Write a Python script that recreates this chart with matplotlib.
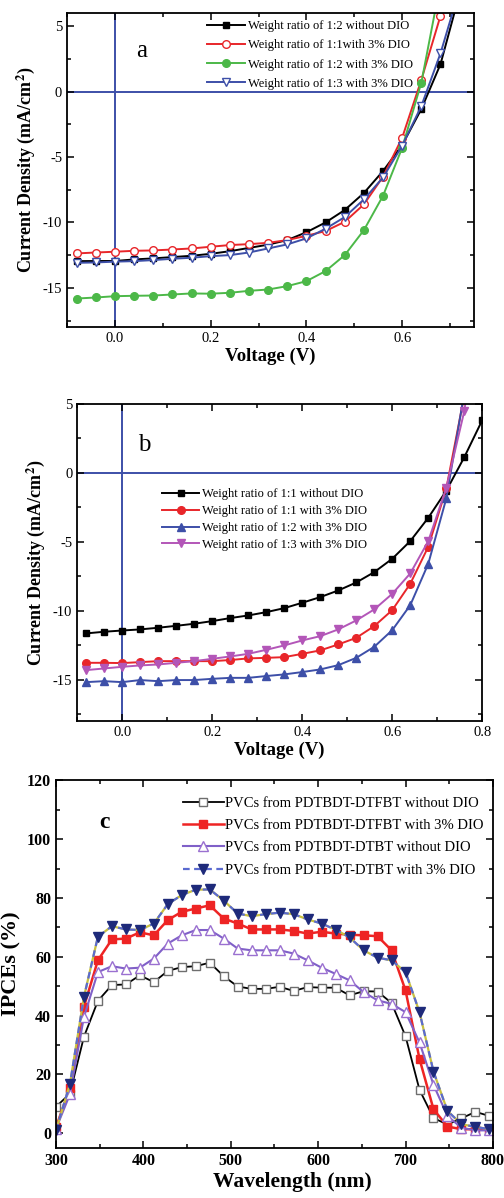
import numpy as np
import matplotlib
matplotlib.use('Agg')
import matplotlib.pyplot as plt
from matplotlib.ticker import MultipleLocator

plt.rcParams['font.family'] = ['Liberation Serif', 'DejaVu Serif']
plt.rcParams['mathtext.fontset'] = 'stix'
plt.rcParams['axes.unicode_minus'] = False

# ---- panel a : J-V curves ----
va = [-0.08, -0.04, 0.0, 0.04, 0.08, 0.12, 0.16, 0.20, 0.24, 0.28, 0.32, 0.36,
      0.40, 0.44, 0.48, 0.52, 0.56, 0.60, 0.64, 0.68, 0.72]
a_12_noDIO = [-12.96, -12.95, -12.95, -12.83, -12.75, -12.65, -12.55, -12.4, -12.2, -11.95,
              -11.7, -11.35, -10.75, -10.0, -9.05, -7.75, -6.07, -4.08, -1.33, 2.1, 7.5]
a_11_DIO = [-12.37, -12.3, -12.24, -12.17, -12.14, -12.07, -11.99, -11.86, -11.73, -11.66,
            -11.56, -11.35, -11.02, -10.66, -9.95, -8.62, -6.5, -3.52, 0.9, 5.8, 12.0]
a_12_DIO = [-15.82, -15.74, -15.64, -15.61, -15.59, -15.51, -15.43, -15.45, -15.38, -15.23,
            -15.13, -14.87, -14.49, -13.72, -12.5, -10.59, -7.96, -4.29, 0.69, 8.3, 16.0]
a_13_DIO = [-13.09, -13.06, -13.0, -12.96, -12.88, -12.78, -12.7, -12.58, -12.5, -12.3,
            -11.99, -11.68, -11.22, -10.48, -9.59, -8.24, -6.56, -4.13, -1.1, 2.93, 7.85]
labels_a = ['Weight ratio of 1:2 without DIO', 'Weight ratio of 1:1with 3% DIO',
            'Weight ratio of 1:2 with 3% DIO', 'Weight ratio of 1:3 with 3% DIO']

# ---- panel b : J-V curves ----
vb = [-0.08, -0.04, 0.0, 0.04, 0.08, 0.12, 0.16, 0.20, 0.24, 0.28, 0.32, 0.36,
      0.40, 0.44, 0.48, 0.52, 0.56, 0.60, 0.64, 0.68, 0.72, 0.76, 0.80]
b_11_noDIO = [-11.64, -11.52, -11.43, -11.35, -11.23, -11.09, -10.94, -10.75, -10.53, -10.34,
              -10.1, -9.81, -9.42, -9.01, -8.53, -7.95, -7.2, -6.23, -4.95, -3.26, -1.3, 1.13, 3.82]
b_11_DIO = [-13.77, -13.77, -13.79, -13.72, -13.65, -13.65, -13.65, -13.65, -13.57, -13.45,
            -13.41, -13.36, -13.12, -12.87, -12.44, -11.96, -11.11, -9.95, -8.04, -5.36, -1.14, 5.6, 14.0]
b_12_DIO = [-15.17, -15.1, -15.17, -15.02, -15.1, -15.02, -15.02, -14.93, -14.86, -14.86,
            -14.73, -14.61, -14.44, -14.25, -13.94, -13.41, -12.61, -11.4, -9.59, -6.59, -1.86, 5.8, 14.0]
b_13_DIO = [-14.3, -14.18, -14.06, -13.96, -13.89, -13.77, -13.65, -13.48, -13.31, -13.12,
            -12.83, -12.51, -12.15, -11.84, -11.35, -10.7, -9.9, -8.77, -7.29, -4.95, -1.09, 4.47, 14.0]
labels_b = ['Weight ratio of 1:1 without DIO', 'Weight ratio of 1:1 with 3% DIO',
            'Weight ratio of 1:2 with 3% DIO', 'Weight ratio of 1:3 with 3% DIO']

# ---- panel c : IPCE ----
wl = [300, 316, 332, 348, 364, 380, 396, 412, 428, 444, 460, 476, 492, 508, 524, 540,
      556, 572, 588, 604, 620, 636, 652, 668, 684, 700, 716, 732, 748, 764, 780, 796]
c_dtfbt = [9.0, 13.5, 32.8, 45.0, 50.4, 50.6, 53.7, 51.4, 55.2, 56.5, 56.8, 58.0, 53.4, 49.9,
           49.1, 49.1, 49.8, 48.4, 49.7, 49.5, 49.5, 46.9, 48.3, 48.2, 44.3, 33.0, 14.8, 5.2,
           3.0, 5.1, 7.3, 5.9]
c_dtfbt_dio = [2.0, 15.5, 43.0, 58.8, 65.9, 66.2, 68.3, 67.3, 72.5, 75.3, 76.4, 77.5, 73.0,
               71.3, 69.3, 69.3, 69.3, 68.8, 67.9, 68.5, 67.9, 67.5, 67.3, 67.0, 62.2, 48.6,
               25.3, 8.2, 2.3, 1.4, 1.4, 1.4]
c_dtbt = [1.5, 13.3, 39.5, 54.8, 56.8, 56.0, 56.3, 59.4, 64.5, 67.3, 69.1, 69.1, 66.2, 62.8,
          62.2, 62.2, 62.2, 61.1, 58.8, 56.3, 54.2, 52.0, 48.0, 45.2, 44.0, 41.2, 30.9, 16.5,
          5.9, 1.9, 1.0, 1.0]
c_dtbt_dio = [1.0, 16.7, 46.3, 66.8, 70.4, 69.3, 69.1, 71.3, 77.9, 81.0, 82.8, 82.9, 79.1,
              74.7, 73.8, 74.5, 75.0, 74.5, 72.7, 71.3, 69.2, 66.6, 62.2, 59.7, 58.8, 54.8,
              41.2, 21.0, 7.6, 3.1, 2.2, 1.4]
labels_c = ['PVCs from PDTBDT-DTFBT without DIO', 'PVCs from PDTBDT-DTFBT with 3% DIO',
            'PVCs from PDTBDT-DTBT without DIO', 'PVCs from PDTBDT-DTBT with 3% DIO']

cross = '#3d4fa8'


def style_axes(ax, lw=1.3):
    for s in ax.spines.values():
        s.set_linewidth(lw)
    ax.tick_params(which='both', direction='in', top=True, right=True, width=1.1)
    ax.tick_params(which='major', length=5)
    ax.tick_params(which='minor', length=3)


fig = plt.figure(figsize=(5.04, 11.98), dpi=100)

# panel a
ax1 = fig.add_axes([0.133, 0.727, 0.8075, 0.262])
ax1.axhline(0, color=cross, lw=1.4, zorder=1)
ax1.axvline(0, color=cross, lw=1.4, zorder=1)
ax1.plot(va, a_12_noDIO, '-s', color='black', ms=5, lw=1.4, label=labels_a[0])
ax1.plot(va, a_11_DIO, '-o', color='#e8262a', mfc='white', mec='#e8262a', ms=5.5, lw=1.4,
         label=labels_a[1])
ax1.plot(va, a_12_DIO, '-o', color='#4cb848', ms=5.5, lw=1.4, label=labels_a[2])
ax1.plot(va, a_13_DIO, '-v', color='#3d4fa8', mfc='white', mec='#3d4fa8', ms=5.5, lw=1.4,
         label=labels_a[3])
ax1.set_xlim(-0.1, 0.75)
ax1.set_ylim(-18, 6)
ax1.xaxis.set_major_locator(MultipleLocator(0.2))
ax1.xaxis.set_minor_locator(MultipleLocator(0.1))
ax1.yaxis.set_major_locator(MultipleLocator(5))
ax1.yaxis.set_minor_locator(MultipleLocator(2.5))
style_axes(ax1)
ax1.tick_params(labelsize=10.5)
ax1.set_xlabel('Voltage (V)', fontsize=13.5, fontweight='bold', labelpad=2)
ax1.set_ylabel('Current Density (mA/cm$^\\mathbf{2}$)', fontsize=13, fontweight='bold', labelpad=4)
ax1.text(0.17, 0.86, 'a', transform=ax1.transAxes, fontsize=18)
ax1.legend(loc='upper left', bbox_to_anchor=(0.335, 0.99), frameon=False, fontsize=9,
           handlelength=3.0, handletextpad=0.3, labelspacing=0.58, borderpad=0.3,
           borderaxespad=0)

# panel b
ax2 = fig.add_axes([0.153, 0.398, 0.804, 0.265])
ax2.axhline(0, color=cross, lw=1.4, zorder=1)
ax2.axvline(0, color=cross, lw=1.4, zorder=1)
ax2.plot(vb, b_11_noDIO, '-s', color='black', ms=5, lw=1.4, label=labels_b[0])
ax2.plot(vb, b_11_DIO, '-o', color='#e8262a', ms=5.5, lw=1.4, label=labels_b[1])
ax2.plot(vb, b_12_DIO, '-^', color='#3d4fa8', ms=5.5, lw=1.4, label=labels_b[2])
ax2.plot(vb, b_13_DIO, '-v', color='#b356b8', ms=5.5, lw=1.4, label=labels_b[3])
ax2.set_xlim(-0.1, 0.8)
ax2.set_ylim(-18, 5)
ax2.xaxis.set_major_locator(MultipleLocator(0.2))
ax2.xaxis.set_minor_locator(MultipleLocator(0.1))
ax2.yaxis.set_major_locator(MultipleLocator(5))
ax2.yaxis.set_minor_locator(MultipleLocator(2.5))
style_axes(ax2)
ax2.tick_params(labelsize=10.5)
ax2.set_xlabel('Voltage (V)', fontsize=13.5, fontweight='bold', labelpad=2)
ax2.set_ylabel('Current Density (mA/cm$^\\mathbf{2}$)', fontsize=13, fontweight='bold', labelpad=4)
ax2.text(0.15, 0.85, 'b', transform=ax2.transAxes, fontsize=18)
ax2.legend(loc='upper left', bbox_to_anchor=(0.2, 0.745), frameon=False, fontsize=9,
           handlelength=3.0, handletextpad=0.2, labelspacing=0.38, borderpad=0.3,
           borderaxespad=0)

# panel c
ax3 = fig.add_axes([0.111, 0.0417, 0.867, 0.307])
ax3.plot(wl, c_dtfbt, '-s', color='black', mfc='white', mec='#6e6e6e', ms=6, lw=1.3,
         label=labels_c[0])
ax3.plot(wl, c_dtfbt_dio, '-s', color='#ee2424', ms=6, lw=1.8, label=labels_c[1])
ax3.plot(wl, c_dtbt, '-^', color='#8060c8', mfc='white', mec='#9a70d0', ms=6.5, lw=1.5,
         label=labels_c[2])
ax3.plot(wl, c_dtbt_dio, color='#c8c040', lw=1.6, zorder=2)
ax3.plot(wl, c_dtbt_dio, '--v', color='#5a6ad0', mfc='#1e2a7a', mec='#1e2a7a', ms=6.5,
         lw=1.6, dashes=(3, 2), label=labels_c[3])
ax3.set_xlim(300, 800)
ax3.set_ylim(-5, 120)
ax3.xaxis.set_major_locator(MultipleLocator(100))
ax3.xaxis.set_minor_locator(MultipleLocator(50))
ax3.yaxis.set_major_locator(MultipleLocator(20))
ax3.yaxis.set_minor_locator(MultipleLocator(10))
style_axes(ax3)
ax3.tick_params(labelsize=11.5)
for t in ax3.get_xticklabels() + ax3.get_yticklabels():
    t.set_fontweight('bold')
ax3.set_xlabel('Wavelength (nm)', fontsize=15.5, fontweight='bold', labelpad=2)
ax3.xaxis.set_label_coords(0.54, -0.065)
ax3.set_ylabel('IPCEs (%)', fontsize=16, fontweight='bold', labelpad=4)
ax3.text(0.1, 0.87, 'c', transform=ax3.transAxes, fontsize=17, fontweight='bold')
ax3.legend(loc='upper left', bbox_to_anchor=(0.28, 0.967), frameon=False, fontsize=10.5,
           handlelength=2.8, handletextpad=0.1, labelspacing=0.62, borderpad=0.3,
           borderaxespad=0)

fig.savefig('out.png', dpi=100)
